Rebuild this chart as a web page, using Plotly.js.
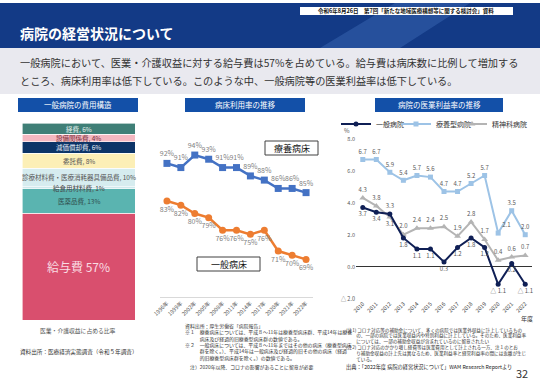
<!DOCTYPE html>
<html><head><meta charset="utf-8">
<script src="https://cdn.plot.ly/plotly-3.0.1.min.js"></script>
<style>html,body{margin:0;padding:0;background:#fff}#c{width:540px;height:382px}</style>
</head><body><div id="c"></div>
<script>
// ---- data ----
const costCategories = ['給与費','医薬品費','給食用材料費','診療材料費・医療消耗器具備品費','委託費','減価償却費','設備関係費','経費'];
const costShares = [57, 13, 1, 10, 8, 6, 4, 6];
const bedYears = ['1996年','1999年','2002年','2005年','2008年','2011年','2014年','2017年','2020年','2021年','2022年'];
const ryoyoBedRate = [92, 91, 94, 93, 91, 91, 89, 88, 86, 86, 85];
const ippanBedRate = [83, 82, 80, 79, 76, 76, 75, 76, 71, 70, 69];
const fiscalYears = ['2010','2011','2012','2013','2014','2015','2016','2017','2018','2019','2020','2021','2022'];
const ippanProfit = [3.7, 3.4, 3.3, 1.8, 1.1, 1.1, 0.3, 1.2, 1.8, 1.2, -1.1, 0.2, -1.1];
const ryoyoProfit = [6.7, 6.7, 5.9, 5.4, 5.7, 5.6, 4.7, 4.7, 5.2, 5.7, 2.1, 3.5, 2.0];
const seishinProfit = [4.3, 3.8, 3.1, 2.0, 2.4, 2.4, 2.5, 1.9, 2.8, 1.7, 0.4, 0.6, 0.7];
const profitTickVals = [-2, 0, 2, 4, 6, 8];
const profitTickText = ['△ 2.0','0.0','2.0','4.0','6.0','8.0'];

// ---- helpers ----
const W = 540, H = 382;
const px = x => x / W, py = y => 1 - y / H;
const FONT = '"Noto Sans CJK JP", "Noto Sans", sans-serif';
const fmt = v => v < 0 ? '△ ' + Math.abs(v).toFixed(1) : v.toFixed(1);

const costColors = ['#d94f6e','#5ab4b0','#cfe8ec','#d6ecef','#fcefb6','#0c3467','#f4b8c1','#3f7f77'];
const costLabelColors = ['#f9dde3','#2f4f4f','#444','#555','#555','#e6eef8','#7a2d3a','#e4f1ee'];

const traces = [];
costCategories.forEach((c, i) => {
  traces.push({type:'bar', x:['a'], y:[costShares[i]], name:c, xaxis:'x', yaxis:'y',
    marker:{color:costColors[i], line:{color:'#ffffff', width:0.6}}, showlegend:false, hoverinfo:'skip'});
});
traces.push({type:'scatter', x:bedYears, y:ryoyoBedRate, xaxis:'x2', yaxis:'y2', mode:'lines+markers+text',
  text:ryoyoBedRate.map(v=>v+'%'), textposition:'top center', textfont:{size:7, color:'#7f7f7f', family:FONT},
  line:{color:'#4472c4', width:2.5}, marker:{symbol:'square', size:7, color:'#4472c4'}, showlegend:false, cliponaxis:false});
traces.push({type:'scatter', x:bedYears, y:ippanBedRate, xaxis:'x2', yaxis:'y2', mode:'lines+markers+text',
  text:ippanBedRate.map(v=>v+'%'), textposition:'bottom center', textfont:{size:7, color:'#7f7f7f', family:FONT},
  line:{color:'#ed7d31', width:2.5}, marker:{symbol:'circle', size:7, color:'#ed7d31'}, showlegend:false, cliponaxis:false});

const ippanPos = ippanProfit.map((v,i)=> i===2 ? 'top center' : 'bottom center');
const seishinPos = seishinProfit.map((v,i)=> i===2 ? 'bottom center' : 'top center');
const ryoyoPos = ryoyoProfit.map((v,i)=> i===10 ? 'top right' : 'top center');
traces.push({type:'scatter', x:fiscalYears, y:ryoyoProfit, xaxis:'x3', yaxis:'y3', mode:'lines+markers+text', name:'療養型病院',
  text:ryoyoProfit.map(fmt), textposition:ryoyoPos, textfont:{size:6, color:'#595959', family:FONT},
  line:{color:'#9dc3e6', width:2}, marker:{symbol:'square', size:5, color:'#9dc3e6'}, legend:'legend2', cliponaxis:false});
traces.push({type:'scatter', x:fiscalYears, y:seishinProfit, xaxis:'x3', yaxis:'y3', mode:'lines+markers+text', name:'精神科病院',
  text:seishinProfit.map(fmt), textposition:seishinPos, textfont:{size:6, color:'#595959', family:FONT},
  line:{color:'#b4b4b4', width:2}, marker:{symbol:'triangle-up', size:6, color:'#b4b4b4'}, legend:'legend3', cliponaxis:false});
traces.push({type:'scatter', x:fiscalYears, y:ippanProfit, xaxis:'x3', yaxis:'y3', mode:'lines+markers+text', name:'一般病院',
  text:ippanProfit.map(fmt), textposition:ippanPos, textfont:{size:6, color:'#595959', family:FONT},
  line:{color:'#0f1f55', width:2}, marker:{symbol:'circle', size:5, color:'#0f1f55'}, legend:'legend', cliponaxis:false});

// ---- shapes ----
const shapes = [
  {type:'rect', xref:'paper', yref:'paper', x0:0, x1:1, y0:py(48), y1:py(3), fillcolor:'#133a86', line:{width:0}, layer:'below'},
  {type:'path', xref:'paper', yref:'paper', path:`M${px(320)},${py(48)} L${px(395)},${py(3)} L${px(470)},${py(3)} L${px(400)},${py(48)} Z`, fillcolor:'rgba(90,140,215,0.28)', line:{width:0}, layer:'below'},
  {type:'rect', xref:'paper', yref:'paper', x0:px(300), x1:px(513), y0:py(15), y1:py(7), fillcolor:'#ffffff', line:{width:0}, layer:'below'},
  {type:'rect', xref:'paper', yref:'paper', x0:0, x1:1, y0:py(94), y1:py(48), fillcolor:'#e9e9ef', line:{width:0}, layer:'below'},
  {type:'rect', xref:'paper', yref:'paper', x0:px(18), x1:px(138), y0:py(112), y1:py(98), fillcolor:'#1350a8', line:{width:0}, layer:'below'},
  {type:'rect', xref:'paper', yref:'paper', x0:px(185), x1:px(305), y0:py(112), y1:py(98), fillcolor:'#1350a8', line:{width:0}, layer:'below'},
  {type:'rect', xref:'paper', yref:'paper', x0:px(375), x1:px(503), y0:py(112), y1:py(98), fillcolor:'#1350a8', line:{width:0}, layer:'below'},
  {type:'rect', xref:'paper', yref:'paper', x0:px(265), x1:px(318), y0:py(155), y1:py(141), fillcolor:'#ffffff', line:{color:'#404040', width:1}},
  {type:'rect', xref:'paper', yref:'paper', x0:px(197), x1:px(260), y0:py(271), y1:py(257), fillcolor:'#ffffff', line:{color:'#404040', width:1}}
];

// ---- annotations ----
const ann = [];
const A = (x, y, text, size, color, opts={}) => ann.push(Object.assign({xref:'paper', yref:'paper', x:px(x), y:py(y), text, showarrow:false,
  font:{size, color, family:FONT}, xanchor:'left', yanchor:'middle'}, opts));
A(18, 33, '<b>病院の経営状況について</b>', 14, '#ffffff');
A(406, 11, '<b>令和6年8月26日　第7回「新たな地域医療構想等に関する検討会」資料</b>', 5.5, '#111', {xanchor:'center'});
A(18, 63, '一般病院において、医業・介護収益に対する給与費は57%を占めている。給与費は病床数に比例して増加する', 10.2, '#333');
A(18, 81, 'ところ、病床利用率は低下している。このような中、一般病院等の医業利益率は低下している。', 10.2, '#333');
A(78, 105, '一般病院の費用構造', 7.5, '#fff', {xanchor:'center'});
A(245, 105, '病床利用率の推移', 7.5, '#fff', {xanchor:'center'});
A(439, 105, '病院の医業利益率の推移', 7.5, '#fff', {xanchor:'center'});
// cost labels through data axis
let cum = 0;
costCategories.forEach((c, i) => {
  const mid = cum + costShares[i] / 2; cum += costShares[i];
  const big = i === 0;
  ann.push({xref:'x', yref:'y', x:'a', y:mid, text: big ? c + ' ' + costShares[i] + '%' : c + ', ' + costShares[i] + '%',
    showarrow:false, font:{size: big ? 12 : 6.5, color:costLabelColors[i], family:FONT}, yanchor:'middle'});
});
A(78, 330, '医業・介護収益に占める比率', 5.8, '#555', {xanchor:'center'});
A(18, 352, '資料出所：医療経済実態調査（令和５年調査）', 5.6, '#333');
A(291.5, 148, '療養病床', 9, '#111', {xanchor:'center'});
A(228.5, 264, '一般病床', 9, '#111', {xanchor:'center'});
const midNotes = ['資料出所：厚生労働省「病院報告」',
  '※１　療養病床については、平成８～11年は療養型病床群、平成14年は療養',
  '　　　病床及び経過的旧療養型病床群の数値である。',
  '※２　一般病床については、平成８～11年まではその他の病床（療養型病床',
  '　　　群を除く。）、平成14年は一般病床及び経過的旧その他の病床（経過',
  '　　　的旧療養型病床群を除く。）の数値である。'];
midNotes.forEach((t, i) => A(183, 326 + i * 6.3, t, 4.9, '#333'));
A(188, 367, '注）2020年以降、コロナの影響があることに留意が必要', 4.9, '#333');
const rightNotes = ['(注1) コロナ対応等の補助金について、多くの病院では医業外収益に計上しているもの',
  '　　 の、一部の病院では医業収益内や特別利益に計上している。そのため、医業利益率',
  '　　 については、一部の補助金収益が含まれているのに留意されたい',
  '(注2) コロナ対応のかかり増し経費等は医業費用として計上される一方、注１のとお',
  '　　 り補助金収益の計上先は異なるため、医業利益率と経常利益率の間には乖離が生じ',
  '　　 ている。'];
rightNotes.forEach((t, i) => A(344, 330 + i * 5.8, t, 4.6, '#333'));
A(344, 367, '出典：「2022年度 病院の経営状況について」WAM Research Reportより', 5.2, '#222');
A(522, 373, '32', 11, '#333', {xanchor:'center'});
A(347, 130, '%', 6, '#555', {xanchor:'center'});
A(527, 318, '年度', 6, '#333', {xanchor:'center'});

const legBase = {orientation:'h', yanchor:'middle', xanchor:'left', font:{size:7, color:'#333', family:FONT},
  bgcolor:'rgba(0,0,0,0)', borderwidth:0, itemwidth:30, tracegroupgap:0};
const layout = {
  width:W, height:H, margin:{l:0, r:0, t:0, b:0}, paper_bgcolor:'#ffffff', plot_bgcolor:'rgba(0,0,0,0)',
  barmode:'stack', bargap:0, showlegend:true, hovermode:false,
  font:{family:FONT},
  xaxis:{domain:[px(22), px(135)], range:[-0.5, 0.5], visible:false, fixedrange:true},
  yaxis:{domain:[py(320), py(123)], range:[0, 105], visible:false},
  xaxis2:{domain:[px(160), px(313)], type:'category', range:[-0.5, 10.5], showgrid:false, showline:true, linecolor:'#d9d9d9', linewidth:1,
    ticks:'', tickangle:-45, tickfont:{size:5.5, color:'#595959', family:FONT}, anchor:'y2', zeroline:false},
  yaxis2:{domain:[py(297), py(130)], range:[60, 100], visible:false, anchor:'x2'},
  xaxis3:{domain:[px(356), px(532)], type:'category', range:[-0.5, 12.5], showgrid:false, showline:false, ticks:'', tickangle:-45,
    tickfont:{size:5.5, color:'#404040', family:FONT}, anchor:'free', position:py(298.7), zeroline:false},
  yaxis3:{domain:[py(298.7), py(138.7)], range:[-2, 8], tickvals:profitTickVals, ticktext:profitTickText, showgrid:false,
    zeroline:true, zerolinecolor:'#333', zerolinewidth:1, showline:false, ticks:'', tickfont:{size:5.5, color:'#595959', family:FONT}, anchor:'x3'},
  legend:Object.assign({}, legBase, {x:px(336), y:py(124)}),
  legend2:Object.assign({}, legBase, {x:px(396), y:py(124)}),
  legend3:Object.assign({}, legBase, {x:px(452), y:py(124)}),
  shapes, annotations:ann
};
Plotly.newPlot('c', traces, layout, {staticPlot:true, displayModeBar:false});
</script></body></html>
